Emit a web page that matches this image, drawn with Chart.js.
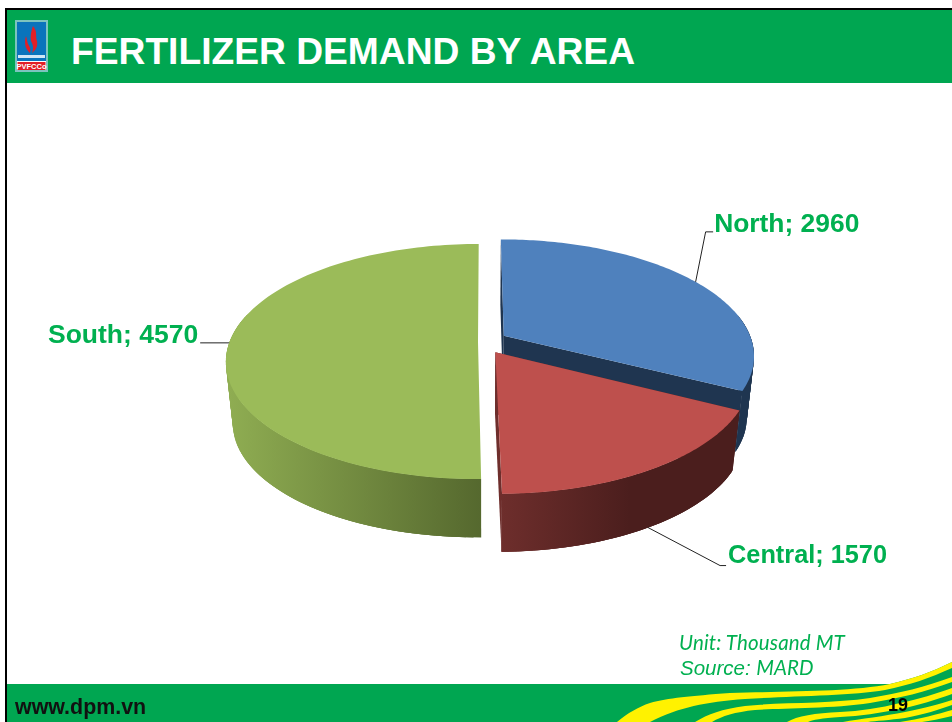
<!DOCTYPE html>
<html>
<head>
<meta charset="utf-8">
<script src="https://cdn.jsdelivr.net/npm/chart.js@4"></script>
<style>
html,body{margin:0;padding:0;background:#fff;width:952px;height:722px;overflow:hidden}
#slide{position:relative;width:952px;height:722px;overflow:hidden;font-family:"Liberation Sans",Arial,sans-serif}
.abs{position:absolute;white-space:nowrap}
#topline{left:5px;top:8px;width:947px;height:2px;background:#000}
#leftline{left:5px;top:8px;width:2px;height:714px;background:#000}
#header{left:7px;top:10px;width:945px;height:73px;background:#00A651}
#title{left:71px;top:30px;font-size:37.2px;line-height:43px;font-weight:bold;color:#fff}
#site{left:15px;top:695px;font-size:21.4px;line-height:25px;font-weight:bold;color:#111}
#page{left:888px;top:694px;font-size:18px;line-height:22px;font-weight:bold;color:#000}
#unit{left:679px;top:630px;font-family:Lato,sans-serif;font-style:italic;font-size:20.5px;line-height:24px;letter-spacing:.15px;color:#00B050}
#source{left:680px;top:655px;font-style:italic;font-size:20.5px;line-height:24px;color:#00B050}
#source span{font-family:Lato,sans-serif;font-size:20.5px}
canvas{position:absolute;left:0;top:0}
svg{position:absolute;left:0;top:0}
</style>
</head>
<body>
<div id="slide">
  <div class="abs" id="header"></div>
  <svg width="952" height="722" viewBox="0 0 952 722">
    <path d="M7 684H890C912 679 932 672 952 662V722H7Z" fill="#00A651"/>
    <path d="M617 722C628 713 638 707 650 703C668 698 690 696 730 693C790 691 850 692 890 684C912 679 932 672 952 662V668C930 678 910 685 885 690C850 696 790 696 745 699C705 702 680 707 650 722Z" fill="#FFF200"/>
    <path d="M695 722C708 714 722 709 745 706C780 702 830 704 870 698C900 693 925 687 952 677V682C925 692 900 698 870 703C830 709 780 708 755 710C735 712 722 716 712 722Z" fill="#FFF200"/>
    <path d="M787 722C797 716 815 713 840 712C860 711 880 708 900 703C920 699 935 694 952 688V694C935 700 920 705 900 709C880 713 860 716 840 717C822 718 812 720 808 722Z" fill="#FFF200"/>
    <path d="M843 722C860 719 885 716 905 712C925 708 940 704 952 700V705C938 710 925 714 905 718C890 720 875 721 868 722Z" fill="#FFF200"/>
    <path d="M900 722C920 719 938 714 952 710V716C940 719 930 721 922 722Z" fill="#FFF200"/>
    <rect x="15" y="20" width="33" height="52" fill="#7CC4BE"/>
    <rect x="17" y="22" width="29" height="39" fill="#0A74BC"/>
    <rect x="17" y="61" width="29" height="9" fill="#fff"/>
    <rect x="17.5" y="62" width="28" height="8" fill="#E21F26"/>
    <path d="M33 26C38 32 35 36 37 41C38 46 36 50 32 53C34 48 33 45 31 41C30 37 31 31 33 26Z" fill="#E21F26"/>
    <path d="M26 36C24 42 25 49 30 53C31 49 30 47 28 44C27 41 27 39 26 36Z" fill="#E21F26"/>
    <rect x="18" y="55" width="27" height="3" fill="#cfe6f5"/>
    <text x="31.5" y="69" text-anchor="middle" font-family="Liberation Sans" font-size="7.5" font-weight="bold" fill="#fff">PVFCCo</text>
  </svg>
  <div class="abs" id="topline"></div>
  <div class="abs" id="leftline"></div>
  <div class="abs" id="title">FERTILIZER DEMAND BY AREA</div>
  <canvas id="chart" width="952" height="722"></canvas>
  <div class="abs" id="unit">Unit: Thousand MT</div>
  <div class="abs" id="source">Source: <span>MARD</span></div>
  <div class="abs" id="site">www.dpm.vn</div>
  <div class="abs" id="page">19</div>
</div>
<script>
const categories = ["North", "Central", "South"];
const demand = [2960, 1570, 4570];

const topColors = ["#4F81BD", "#BE504D", "#9BBB59"];
const wallStops = [
  ["#1F3550", "#1F3550"],
  ["#6E2E2C", "#4B1E1D"],
  ["#8FAD52", "#55682E"]
];
const wallSpan = [[500, 760], [500, 630], [228, 482]];
const explodeX = [14, 6, 14];
const explodeY = [26, 26, 26];
const leaderAnchor = [[10, -50], [72, 38], [-29, 0]];
const labelPos = [[18.5, -57], [80, 28], [-31, -7]];
const labelSize = [26.4, 25.3, 26.5];

const tilt = 0.46, camera = 1500, vanishX = 483, depth = 62, bottomScale = 0.973;

function projectPlane(el, X, Y, low) {
  const f = camera / (camera - Y);
  const g = low ? bottomScale : 1;
  return [vanishX + X * f * g, el.y + Y * tilt * f * g + (low ? depth : 0)];
}
function project(el, i, angle, low) {
  const mid = (el.startAngle + el.endAngle) / 2;
  const X = el.x - vanishX + el.outerRadius * Math.cos(angle) + explodeX[i] * Math.cos(mid);
  const Y = el.outerRadius * Math.sin(angle) + explodeY[i] * Math.sin(mid);
  return projectPlane(el, X, Y, low);
}
function apex(el, i, low) {
  const mid = (el.startAngle + el.endAngle) / 2;
  return projectPlane(el, el.x - vanishX + explodeX[i] * Math.cos(mid), explodeY[i] * Math.sin(mid), low);
}
const rimSteps = 120;
function rimAngle(el, s) {
  return el.startAngle + (el.endAngle - el.startAngle) * s / rimSteps;
}
function rim(el, i, low) {
  const pts = [];
  for (let s = 0; s <= rimSteps; s++) pts.push(project(el, i, rimAngle(el, s), low));
  return pts;
}
function fillPoly(ctx, pts, fill) {
  ctx.beginPath();
  pts.forEach((p, k) => k ? ctx.lineTo(p[0], p[1]) : ctx.moveTo(p[0], p[1]));
  ctx.closePath();
  ctx.fillStyle = fill;
  ctx.fill();
}

const pie3d = {
  id: "pie3d",
  beforeDatasetsDraw(chart) {
    const ctx = chart.ctx, arcs = chart.getDatasetMeta(0).data;
    const order = arcs.map((el, i) => i).sort((a, b) =>
      Math.sin((arcs[a].startAngle + arcs[a].endAngle) / 2) - Math.sin((arcs[b].startAngle + arcs[b].endAngle) / 2));
    ctx.save();
    order.forEach(i => {
      const el = arcs[i];
      const top = rim(el, i, false), low = rim(el, i, true);
      const a = apex(el, i, false), b = apex(el, i, true);
      const grad = ctx.createLinearGradient(wallSpan[i][0], 0, wallSpan[i][1], 0);
      grad.addColorStop(0, wallStops[i][0]);
      grad.addColorStop(1, wallStops[i][1]);
      if (a[0] > vanishX) {
        fillPoly(ctx, [a, top[0], low[0], b], grad);
        fillPoly(ctx, [a, top[top.length - 1], low[low.length - 1], b], grad);
      }
      for (let s = 0; s < top.length - 1; s++) {
        if (Math.sin(rimAngle(el, s)) < -0.2) continue;
        const e = Math.min(s + 3, top.length - 1);
        fillPoly(ctx, [top[s], top[e], low[e], low[s]], grad);
      }
      fillPoly(ctx, [a].concat(top), el.options.backgroundColor);
    });
    ctx.restore();
    return false;
  },
  afterDraw(chart) {
    const ctx = chart.ctx, arcs = chart.getDatasetMeta(0).data;
    ctx.save();
    arcs.forEach((el, i) => {
      const mid = (el.startAngle + el.endAngle) / 2;
      const low = i === 1;
      const p = project(el, i, mid, low);
      const lx = p[0] + leaderAnchor[i][0], ly = p[1] + leaderAnchor[i][1];
      const tx = p[0] + labelPos[i][0], ty = p[1] + labelPos[i][1];
      ctx.strokeStyle = "#222";
      ctx.lineWidth = 1;
      ctx.beginPath();
      ctx.moveTo(p[0], p[1]);
      ctx.lineTo(lx, ly);
      if (i === 0) ctx.lineTo(tx - 1, ly);
      if (i === 1) ctx.lineTo(tx - 2, ly);
      ctx.stroke();
      ctx.font = 'bold ' + labelSize[i] + 'px "Liberation Sans", Arial, sans-serif';
      ctx.fillStyle = "#00B050";
      ctx.textBaseline = "middle";
      ctx.textAlign = i === 2 ? "right" : "left";
      ctx.fillText(categories[i] + "; " + demand[i], tx, ty);
    });
    ctx.restore();
  }
};

new Chart(document.getElementById("chart"), {
  type: "pie",
  plugins: [pie3d],
  data: {
    labels: categories,
    datasets: [{ data: demand, backgroundColor: topColors, borderWidth: 0 }]
  },
  options: {
    responsive: false,
    animation: false,
    radius: 248.5,
    layout: { padding: { left: 32, right: 0, top: 0, bottom: 38 } },
    plugins: { legend: { display: false }, title: { display: false }, tooltip: { enabled: false } }
  }
});
</script>
</body>
</html>
